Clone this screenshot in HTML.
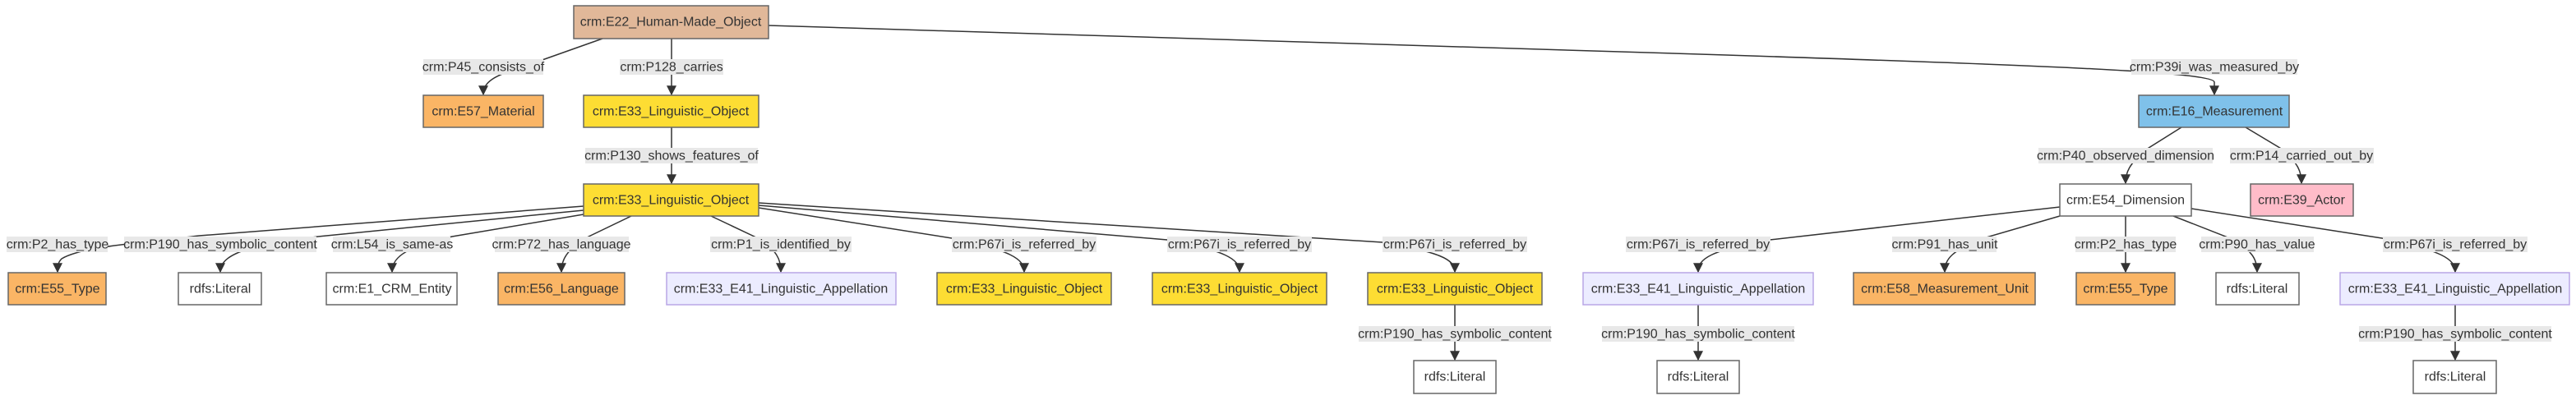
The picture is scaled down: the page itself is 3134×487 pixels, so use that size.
<!DOCTYPE html>
<html><head><meta charset="utf-8"><style>
html,body{margin:0;padding:0;background:#fff;}
svg{display:block;}
text{font-family:"Liberation Sans",sans-serif;font-size:16px;fill:#333;text-anchor:middle;dominant-baseline:central;}
.n{stroke:#666;stroke-width:1.5;}
.e{fill:none;stroke:#333;stroke-width:1.5;}
.l{fill:#e8e8e8;}
</style></head><body>
<svg width="3134" height="487" viewBox="0 0 3134 487" xmlns="http://www.w3.org/2000/svg">
<defs><marker id="a" viewBox="0 0 10 10" refX="9" refY="5" markerWidth="8" markerHeight="8" orient="auto"><path d="M0,0L10,5L0,10z" fill="#333"/></marker></defs>
<!-- edges -->
<g class="e" marker-end="url(#a)">
<path d="M733,47 L640,80 C600,92 588,100 588,115"/>
<path d="M817,47 L817,115"/>
<path d="M935,31 L2100,67 C2500,80 2694,88 2694,100 L2694,115"/>
<path d="M817,155 L817,223"/>
<path d="M710,251 L242,287 C170,296 100,300 75,315 C70,320 70,325 70,331"/>
<path d="M710,256 L387,288 C320,297 268,305 268,331"/>
<path d="M710,261 L550,288 C500,300 477,310 477,331"/>
<path d="M768,263 L712,290 C690,305 683,315 683,331"/>
<path d="M865,263 L922,290 C945,305 950,315 950,331"/>
<path d="M923,253 L1158,290 C1230,305 1246,315 1246,331"/>
<path d="M923,250 L1420,292 C1490,305 1508,315 1508,331"/>
<path d="M923,247 L1682,295 C1750,307 1770,315 1770,331"/>
<path d="M1770,371 L1770,438"/>
<path d="M2066,371 L2066,438"/>
<path d="M2654,155 L2611,182 C2590,200 2586,210 2586,223"/>
<path d="M2732,155 L2777,182 C2797,200 2800,210 2800,223"/>
<path d="M2506,252 L2153,292 C2080,305 2066,315 2066,331"/>
<path d="M2506,263 L2413,290 C2375,305 2366,315 2366,331"/>
<path d="M2586,263 L2586,331"/>
<path d="M2644,263 L2713,290 C2740,305 2746,315 2746,331"/>
<path d="M2666,254 L2898,290 C2970,305 2987,315 2987,331"/>
<path d="M2987,371 L2987,438"/>
</g>
<!-- edge labels -->
<g>
<rect class="l" x="515" y="72" width="146" height="19"/><text x="588" y="82">crm:P45_consists_of</text>
<rect class="l" x="754" y="72" width="126" height="19"/><text x="817" y="82">crm:P128_carries</text>
<rect class="l" x="2593" y="72" width="202" height="19"/><text x="2694" y="82">crm:P39i_was_measured_by</text>
<rect class="l" x="712" y="180" width="210" height="19"/><text x="817" y="190">crm:P130_shows_features_of</text>
<rect class="l" x="2480" y="180" width="212" height="19"/><text x="2586" y="190">crm:P40_observed_dimension</text>
<rect class="l" x="2713" y="180" width="175" height="19"/><text x="2800" y="190">crm:P14_carried_out_by</text>
<rect class="l" x="8" y="288" width="123" height="19"/><text x="70" y="298">crm:P2_has_type</text>
<rect class="l" x="151" y="288" width="234" height="19"/><text x="268" y="298">crm:P190_has_symbolic_content</text>
<rect class="l" x="405" y="288" width="143" height="19"/><text x="477" y="298">crm:L54_is_same-as</text>
<rect class="l" x="602" y="288" width="163" height="19"/><text x="683" y="298">crm:P72_has_language</text>
<rect class="l" x="864" y="288" width="172" height="19"/><text x="950" y="298">crm:P1_is_identified_by</text>
<rect class="l" x="1158" y="288" width="176" height="19"/><text x="1246" y="298">crm:P67i_is_referred_by</text>
<rect class="l" x="1420" y="288" width="176" height="19"/><text x="1508" y="298">crm:P67i_is_referred_by</text>
<rect class="l" x="1682" y="288" width="176" height="19"/><text x="1770" y="298">crm:P67i_is_referred_by</text>
<rect class="l" x="1978" y="288" width="176" height="19"/><text x="2066" y="298">crm:P67i_is_referred_by</text>
<rect class="l" x="2302" y="288" width="127" height="19"/><text x="2366" y="298">crm:P91_has_unit</text>
<rect class="l" x="2525" y="288" width="122" height="19"/><text x="2586" y="298">crm:P2_has_type</text>
<rect class="l" x="2678" y="288" width="137" height="19"/><text x="2746" y="298">crm:P90_has_value</text>
<rect class="l" x="2899" y="288" width="176" height="19"/><text x="2987" y="298">crm:P67i_is_referred_by</text>
<rect class="l" x="1653" y="397" width="234" height="19"/><text x="1770" y="407">crm:P190_has_symbolic_content</text>
<rect class="l" x="1949" y="397" width="234" height="19"/><text x="2066" y="407">crm:P190_has_symbolic_content</text>
<rect class="l" x="2870" y="397" width="234" height="19"/><text x="2987" y="407">crm:P190_has_symbolic_content</text>
</g>
<!-- nodes -->
<g>
<rect class="n" x="698" y="7" width="237" height="40" fill="#e1b899"/><text x="816" y="27">crm:E22_Human-Made_Object</text>
<rect class="n" x="515" y="116" width="146" height="39" fill="#fab565"/><text x="588" y="136">crm:E57_Material</text>
<rect class="n" x="710" y="116" width="213" height="39" fill="#fddd33"/><text x="816" y="136">crm:E33_Linguistic_Object</text>
<rect class="n" x="710" y="224" width="213" height="39" fill="#fddd33"/><text x="816" y="244">crm:E33_Linguistic_Object</text>
<rect class="n" x="10" y="332" width="119" height="39" fill="#fab565"/><text x="70" y="352">crm:E55_Type</text>
<rect class="n" x="217" y="332" width="101" height="39" fill="#fff"/><text x="268" y="352">rdfs:Literal</text>
<rect class="n" x="397" y="332" width="159" height="39" fill="#fff"/><text x="477" y="352">crm:E1_CRM_Entity</text>
<rect class="n" x="606" y="332" width="154" height="39" fill="#fab565"/><text x="683" y="352">crm:E56_Language</text>
<rect x="811" y="332" width="279" height="39" fill="#ececff" stroke="#b9a6e6" stroke-width="1.5"/><text x="950" y="352">crm:E33_E41_Linguistic_Appellation</text>
<rect class="n" x="1140" y="332" width="212" height="39" fill="#fddd33"/><text x="1246" y="352">crm:E33_Linguistic_Object</text>
<rect class="n" x="1402" y="332" width="212" height="39" fill="#fddd33"/><text x="1508" y="352">crm:E33_Linguistic_Object</text>
<rect class="n" x="1664" y="332" width="212" height="39" fill="#fddd33"/><text x="1770" y="352">crm:E33_Linguistic_Object</text>
<rect x="1926" y="332" width="280" height="39" fill="#ececff" stroke="#b9a6e6" stroke-width="1.5"/><text x="2066" y="352">crm:E33_E41_Linguistic_Appellation</text>
<rect class="n" x="1720" y="439" width="100" height="40" fill="#fff"/><text x="1770" y="459">rdfs:Literal</text>
<rect class="n" x="2016" y="439" width="100" height="40" fill="#fff"/><text x="2066" y="459">rdfs:Literal</text>
<rect class="n" x="2602" y="116" width="183" height="39" fill="#7fc1ea"/><text x="2694" y="136">crm:E16_Measurement</text>
<rect class="n" x="2506" y="224" width="160" height="39" fill="#fff"/><text x="2586" y="244">crm:E54_Dimension</text>
<rect class="n" x="2738" y="224" width="125" height="39" fill="#ffbcc9"/><text x="2800" y="244">crm:E39_Actor</text>
<rect class="n" x="2255" y="332" width="221" height="39" fill="#fab565"/><text x="2366" y="352">crm:E58_Measurement_Unit</text>
<rect class="n" x="2526" y="332" width="120" height="39" fill="#fab565"/><text x="2586" y="352">crm:E55_Type</text>
<rect class="n" x="2696" y="332" width="101" height="39" fill="#fff"/><text x="2746" y="352">rdfs:Literal</text>
<rect x="2847" y="332" width="279" height="39" fill="#ececff" stroke="#b9a6e6" stroke-width="1.5"/><text x="2987" y="352">crm:E33_E41_Linguistic_Appellation</text>
<rect class="n" x="2936" y="439" width="101" height="40" fill="#fff"/><text x="2987" y="459">rdfs:Literal</text>
</g>
</svg>
</body></html>
